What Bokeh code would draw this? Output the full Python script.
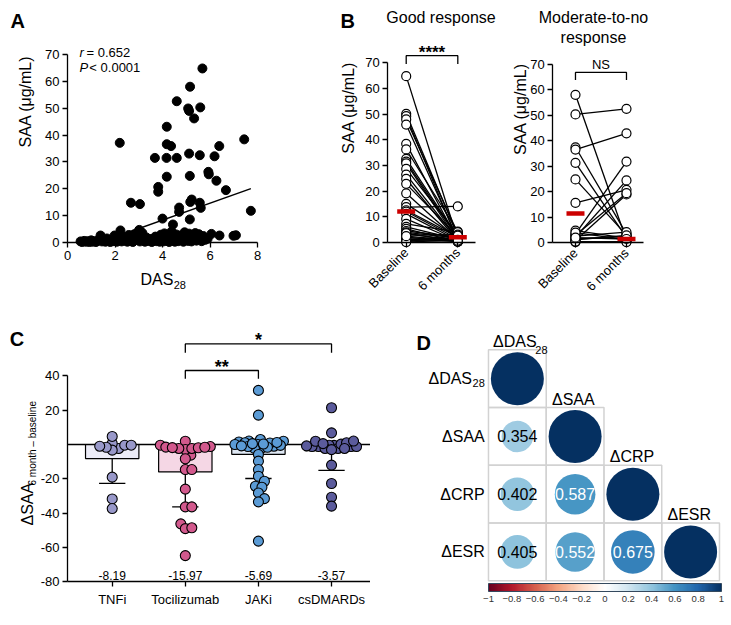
import math
import numpy as np
from bokeh.plotting import figure
from bokeh.layouts import row, column
from bokeh.models import (Range1d, FixedTicker, Label, LinearAxis, LinearColorMapper,
                          ColorBar, CustomJSTickFormatter, ColumnDataSource, AllLabels)
from bokeh.core.properties import value
from bokeh.embed import file_html
from bokeh.resources import INLINE

FONT = "Liberation Sans"

# ---------------- DATA ----------------
# Panel A: DAS28 vs SAA
das28 = [5.68, 5.16, 4.60, 5.08, 5.12, 5.59, 5.33, 4.18, 4.18, 4.36, 2.20, 7.44, 6.39, 3.68,
         4.17, 4.60, 5.12, 5.57, 6.19, 4.18, 5.15, 5.93, 5.95, 6.27, 6.67, 3.82, 3.82, 2.67,
         3.05, 5.17, 5.23, 5.57, 5.61, 4.70, 4.70, 4.00, 5.15, 7.72, 4.44,
         0.55, 0.62, 0.70, 0.78, 0.85, 0.92, 1.00, 1.05, 1.12, 1.20, 1.28, 1.35, 1.39, 1.45,
         1.52, 1.60, 1.66, 1.72, 1.80, 1.86, 1.92, 1.98, 2.02, 2.08, 2.12, 2.18, 2.23, 2.28,
         2.33, 2.40, 2.46, 2.52, 2.58, 2.63, 2.70, 2.75, 2.82, 2.88, 2.93, 2.98, 3.02, 3.05,
         3.10, 3.15, 3.20, 3.26, 3.32, 3.40, 3.48, 3.55, 3.62, 3.70, 3.76, 3.82, 3.88, 3.93,
         3.98, 4.03, 4.08, 4.12, 4.18, 4.22, 4.28, 4.33, 4.38, 4.42, 4.47, 4.52, 4.57, 4.62,
         4.66, 4.72, 4.78, 4.83, 4.88, 4.93, 4.98, 5.03, 5.08, 5.12, 5.17, 5.22, 5.28, 5.33,
         5.38, 5.43, 5.48, 5.53, 5.58, 5.65, 5.72, 5.80, 5.90, 6.06, 6.40, 6.99, 7.09]
saa = [64.8, 58.0, 52.6, 49.9, 49.0, 50.3, 46.2, 43.1, 36.6, 35.9, 37.1, 38.4, 35.9, 31.5,
       31.5, 31.5, 33.1, 32.5, 32.1, 24.5, 24.8, 26.3, 25.4, 23.0, 19.5, 20.7, 18.9, 14.8,
       14.3, 15.1, 16.0, 14.8, 12.9, 13.0, 11.4, 8.9, 8.6, 11.8, 6.7,
       0.4, 0.2, 0.6, 0.3, 0.5, 0.2, 0.8, 0.3, 0.5, 0.2, 0.7, 1.2, 2.6, 0.4,
       0.9, 0.3, 1.5, 0.6, 0.2, 1.1, 0.5, 2.6, 1.8, 0.3, 0.9, 1.4, 4.5, 0.4,
       2.1, 0.7, 1.2, 0.3, 2.8, 0.6, 1.6, 0.2, 3.1, 0.9, 1.5, 4.0, 4.7, 0.4,
       2.4, 3.6, 1.0, 0.3, 1.9, 0.6, 1.3, 0.2, 0.8, 2.2, 0.5, 1.6, 0.3, 2.9,
       1.1, 0.4, 3.4, 1.8, 0.6, 2.5, 0.2, 1.4, 4.1, 0.8, 2.0, 0.3, 3.0, 1.2,
       0.5, 2.6, 0.9, 1.7, 0.3, 3.8, 1.0, 2.3, 0.6, 3.3, 1.5, 0.4, 2.8, 1.1,
       3.5, 0.7, 2.0, 3.1, 1.3, 0.5, 2.4, 1.0, 1.4, 3.2, 2.6, 2.5, 2.7]
fit_slope = 3.15
fit_intercept = -4.27
fit_r = "0.652"
fit_p = "0.0001"

# Panel B: paired SAA, baseline vs 6 months
b_categories = ["Baseline", "6 months"]
good_base = [64.8, 50.1, 49.2, 47.9, 45.9, 38.4, 36.2, 32.5, 31.5, 30.8, 28.6, 26.4, 24.7,
             22.8, 19.1, 15.0, 13.7, 12.5, 12.0, 11.1, 9.1, 7.2, 6.0, 5.2, 4.4, 3.9, 3.3,
             2.8, 2.0, 1.6, 1.1, 0.65, 0.3, 0.1, 3.6, 2.4]
good_six = [1.0, 2.5, 0.5, 3.5, 1.2, 0.8, 4.2, 2.0, 1.5, 0.6, 3.0, 1.0, 0.4, 2.2, 0.9, 1.8,
            14.0, 2.0, 1.3, 0.7, 0.5, 4.0, 1.1, 0.3, 2.0, 1.6, 0.8, 3.0, 0.2, 1.4, 0.9, 0.5,
            2.6, 1.0, 0.3, 0.6]
good_median = [12.0, 2.0]
poor_base = [58.1, 50.4, 37.5, 36.6, 31.4, 24.9, 15.7, 4.8, 3.5, 2.2, 0.9, 0.3, 3.0, 1.5,
             2.6, 4.0, 1.2, 0.5, 2.0]
poor_six = [1.0, 52.6, 3.5, 43.0, 2.0, 3.0, 20.8, 1.8, 31.9, 24.5, 19.0, 0.5, 19.5, 2.5,
            4.2, 1.2, 2.9, 0.3, 1.5]
poor_median = [11.5, 1.5]

# Panel C: change in SAA by treatment
c_groups = ["TNFi", "Tocilizumab", "JAKi", "csDMARDs"]
c_mean = [-8.19, -15.97, -5.69, -3.57]
c_sd = [14.5, 20.3, 14.1, 11.5]
c_values = [
    [-2.3, 0.6, -0.4, -3.3, -1.6, 4.7, -1.0, -0.4, -19.0, -31.7, -37.3],
    [1.9, -6.2, -2.9, -2.3, -1.9, -2.3, -0.4, -1.5, -1.2, -1.8, -1.6, -8.3, -14.6, -14.6,
     -26.0, -36.3, -36.3, -46.2, -49.0, -48.5, -64.7],
    [31.5, 17.1, -1.0, 1.5, 2.0, 0.9, 2.9, 0.0, -2.3, 1.9, 0.0, 1.0, -2.3, -1.6, -1.2, 0.3,
     0.5, -0.8, -5.8, -9.7, -14.6, -18.5, -21.4, -24.3, -24.9, -28.2, -31.5, -33.4, -56.3,
     -0.5, 1.2],
    [21.4, 6.8, -0.5, -1.2, -1.2, -2.3, -0.4, 0.2, -2.3, -1.2, 1.0, -3.0, -1.2, 1.9, 2.0,
     -2.3, -0.8, -12.0, -22.7, -30.7, -35.9, 0.5],
]
c_dot_colors = ["#9898c9", "#d2598d", "#5b9bd5", "#5b5b9c"]
c_bar_colors = ["#ececf7", "#f5d7e5", "#dee7f3", "#e9e9f3"]

# Panel D: correlation matrix
d_vars = ["\u0394DAS", "\u0394SAA", "\u0394CRP", "\u0394ESR"]
d_corr = [[1.0],
          [0.354, 1.0],
          [0.402, 0.587, 1.0],
          [0.405, 0.552, 0.675, 1.0]]
cbar_ticks = [-1, -0.8, -0.6, -0.4, -0.2, 0, 0.2, 0.4, 0.6, 0.8, 1]
rdbu11 = ["#67001F", "#B2182B", "#D6604D", "#F4A582", "#FDDBC7", "#FFFFFF",
          "#D1E5F0", "#92C5DE", "#4393C3", "#2166AC", "#053061"]


# ---------------- helpers ----------------
def make_fig(w, h, xr, yr):
    p = figure(width=w, height=h, x_range=Range1d(*xr), y_range=Range1d(*yr),
               x_axis_type=None, y_axis_type=None,
               output_backend="svg", toolbar_location=None,
               min_border_left=0, min_border_right=0, min_border_top=0,
               min_border_bottom=0)
    p.outline_line_color = None
    p.background_fill_color = "white"
    p.border_fill_color = "white"
    p.grid.visible = False
    return p


def style_axis(ax):
    ax.axis_line_width = 1.3
    ax.axis_line_color = "black"
    ax.major_tick_line_width = 1.3
    ax.major_tick_line_color = "black"
    ax.major_tick_in = 0
    ax.major_tick_out = 5
    ax.minor_tick_line_color = None
    ax.major_label_text_font = FONT
    ax.major_label_text_font_size = "13px"
    ax.major_label_text_color = "black"
    ax.major_label_standoff = 3
    ax.axis_label_text_font = FONT
    ax.axis_label_text_font_size = "16px"
    ax.axis_label_text_font_style = "normal"
    ax.axis_label_text_color = "black"


def add_axes(p, xfix, xb, xticks, yfix, yb, yticks):
    xa = LinearAxis(fixed_location=xfix, bounds=xb, ticker=FixedTicker(ticks=xticks))
    ya = LinearAxis(fixed_location=yfix, bounds=yb, ticker=FixedTicker(ticks=yticks))
    style_axis(xa)
    style_axis(ya)
    p.add_layout(xa, "below")
    p.add_layout(ya, "left")
    return xa, ya


def lab(p, x, y, text, size="13px", style="normal", align="left", baseline="middle",
        color="black", angle=0.0):
    p.add_layout(Label(x=x, y=y, text=text, text_font=FONT, text_font_size=size,
                       text_font_style=style, text_align=align, text_baseline=baseline,
                       text_color=color, angle=angle))


def bracket(p, x0, x1, ytop, ybot):
    p.line([x0, x0, x1, x1], [ybot, ytop, ytop, ybot], line_color="black", line_width=1.3)


# ---------------- Panel A ----------------
pA = make_fig(290, 300, (-2.821, 9.389), (-21.59, 90.1))
xa, ya = add_axes(pA, 0, (0, 8), [0, 2, 4, 6, 8], 0, (0, 70), list(range(0, 71, 10)))
pA.scatter(das28, saa, size=9, color="black")
fx = np.array([-fit_intercept / fit_slope, max(das28)])
pA.line(fx, fit_slope * fx + fit_intercept, line_color="black", line_width=1.5)
lab(pA, -2.4, 86.4, "A", size="20px", style="bold", baseline="top")
lab(pA, -1.76, 52.5, "SAA (\u03bcg/mL)", size="16px", align="center", angle=math.pi / 2)
lab(pA, 0.5, 70.7, "r", style="italic")
lab(pA, 0.8, 70.7, "= " + fit_r)
lab(pA, 0.5, 65.0, "P", style="italic")
lab(pA, 0.92, 65.0, "< " + fit_p)
lab(pA, 3.07, -13.6, "DAS", size="16px")
lab(pA, 4.47, -15.8, "28", size="11px")


# ---------------- Panel B ----------------
def make_b(w, xr, yr, yfix, xend, base, six, med):
    p = make_fig(w, 300, xr, yr)
    xa, ya = add_axes(p, 0, (yfix, xend), [0, 1], yfix, (0, 70), list(range(0, 71, 10)))
    xa.major_label_overrides = {0: b_categories[0], 1: b_categories[1]}
    xa.major_label_orientation = math.pi / 4
    n = len(base)
    p.segment(x0=[0] * n, y0=base, x1=[1] * n, y1=six, line_color="black", line_width=1.3)
    p.scatter([0] * n, base, size=9, fill_color="white", line_color="black", line_width=1.2)
    p.scatter([1] * n, six, size=9, fill_color="white", line_color="black", line_width=1.2)
    p.rect([0, 1], med, width=18, height=4.5, width_units="screen", height_units="screen",
           fill_color="#cc0000", line_color=None)
    return p


pB1 = make_b(212, (-2.242, 1.866), (-22.7, 94.3), -0.357, 1.343,
             good_base, good_six, good_median)
lab(pB1, -1.273, 90.7, "B", size="20px", style="bold", baseline="top")
lab(pB1, -1.11, 52.5, "SAA (\u03bcg/mL)", size="16px", align="center", angle=math.pi / 2)
lab(pB1, 0.674, 87.6, "Good response", size="16px", align="center")
bracket(pB1, 0, 1, 72.8, 69.5)
lab(pB1, 0.5, 73.9, "****", size="17px", style="bold", align="center", baseline="alphabetic")

pB2 = make_b(158, (-1.431, 1.667), (-22.65, 95.13), -0.445, 1.333,
             poor_base, poor_six, poor_median)
lab(pB2, -1.08, 52.5, "SAA (\u03bcg/mL)", size="16px", align="center", angle=math.pi / 2)
lab(pB2, 0.353, 88.3, "Moderate-to-no", size="16px", align="center")
lab(pB2, 0.353, 80.6, "response", size="16px", align="center")
bracket(pB2, 0, 1, 66.9, 63.9)
lab(pB2, 0.5, 70.0, "NS", size="13px", align="center", baseline="alphabetic")

# ---------------- Panel C ----------------
C_XR = (-1.528, 3.533)
C_YR = (-102.5, 83.87)
pC = make_fig(370, 320, C_XR, C_YR)
cxa, cya = add_axes(pC, -80, (-0.611, C_XR[1]), [0, 1, 2, 3], -0.611, (-80, 40),
                    [-80, -60, -40, -20, 20, 40])
cxa.major_label_overrides = {i: g for i, g in enumerate(c_groups)}
cxa.major_label_standoff = 5
cya.formatter = CustomJSTickFormatter(code="return tick.toString();")
x_ppu = 370 / (C_XR[1] - C_XR[0])
y_ppu = 320 / (C_YR[1] - C_YR[0])


def swarm(vals, d=6.5, maxoff=25.0):
    cands = [0.0]
    k = 1
    while k * 0.5 <= maxoff:
        cands += [k * 0.5, -k * 0.5]
        k += 1
    placed = []
    offs = [0.0] * len(vals)
    for i in sorted(range(len(vals)), key=lambda k: vals[k]):
        yi = vals[i] * y_ppu
        chosen, bestd = 0.0, -1.0
        for c in cands:
            md = min((math.hypot(c - px, yi - py) for px, py in placed), default=1e9)
            if md >= d:
                chosen = c
                break
            if md > bestd:
                bestd, chosen = md, c
        placed.append((chosen, yi))
        offs[i] = chosen / x_ppu
    return offs


gx = list(range(len(c_groups)))
pC.vbar(x=gx, top=0, bottom=c_mean, width=0.73, fill_color=c_bar_colors,
        line_color="black", line_width=1.2)
pC.segment(x0=[-0.611], y0=[0], x1=[C_XR[1]], y1=[0], line_color="black", line_width=1.3)
lows = [m - s for m, s in zip(c_mean, c_sd)]
pC.segment(x0=gx, y0=c_mean, x1=gx, y1=lows, line_color="black", line_width=1.3)
pC.segment(x0=[g - 0.18 for g in gx], y0=lows, x1=[g + 0.18 for g in gx], y1=lows,
           line_color="black", line_width=1.3)
for g, vals in enumerate(c_values):
    offs = swarm(vals)
    pC.scatter([g + o for o in offs], vals, size=10, fill_color=c_dot_colors[g],
               line_color="black", line_width=1.1)
pC.text(x=gx, y=[-76.3] * 4, text=[f"{m:.2f}" for m in c_mean], text_font=value(FONT),
        text_font_size="12px", text_align="center", text_baseline="middle",
        text_color="black")
bracket(pC, 1, 2, 43.1, 38.3)
lab(pC, 1.5, 45.0, "**", size="18px", style="bold", align="center", baseline="alphabetic")
bracket(pC, 1, 3, 58.6, 53.4)
lab(pC, 2.0, 60.6, "*", size="18px", style="bold", align="center", baseline="alphabetic")
lab(pC, -1.40, 67.6, "C", size="20px", style="bold", baseline="top")
lab(pC, -1.159, -47.2, "\u0394SAA", size="16px", baseline="middle", angle=math.pi / 2)
lab(pC, -1.085, -23.9, "6 month \u2013 baseline", size="10px", baseline="middle",
    angle=math.pi / 2)

# ---------------- Panel D ----------------
pD = make_fig(358, 320, (-2.043, 4.156), (4.687, -0.854))

rgb = np.array([[int(c[i:i + 2], 16) for i in (1, 3, 5)] for c in rdbu11], dtype=float)
pos = np.linspace(0, 1, len(rdbu11))
tt = np.linspace(0, 1, 201)
palette = ["#%02x%02x%02x" % tuple(int(round(np.interp(t, pos, rgb[:, k]))) for k in range(3))
           for t in tt]
mapper = LinearColorMapper(palette=palette, low=-1, high=1)

cx, cy, cv, cr, ctext, ctcol = [], [], [], [], [], []
for i, rowv in enumerate(d_corr):
    for j, v in enumerate(rowv):
        cx.append(j + 0.5)
        cy.append(i + 0.5)
        cv.append(v)
        cr.append(0.459 * math.sqrt(abs(v)))
        ctext.append("" if i == j else f"{v:.3f}")
        ctcol.append("white" if abs(v) > 0.5 else "black")
src = ColumnDataSource(dict(x=cx, y=cy, v=cv, r=cr, t=ctext, tc=ctcol))
pD.rect(x="x", y="y", width=1, height=1, source=src, fill_color=None,
        line_color="#d2d2d2", line_width=1.5)
pD.circle(x="x", y="y", radius="r", source=src,
          fill_color={"field": "v", "transform": mapper}, line_color=None)
pD.text(x="x", y="y", text="t", source=src, text_color="tc", text_font=value(FONT),
        text_font_size="16px", text_align="center", text_baseline="middle")

for i, name in enumerate(d_vars):
    if i == 0:
        lab(pD, -0.285, 0.5, name, size="16px", align="right")
        lab(pD, -0.064, 0.58, "28", size="11px", align="right")
        lab(pD, 0.08, 0.0, name, size="16px", baseline="bottom")
        lab(pD, 0.81, 0.08, "28", size="11px", baseline="bottom")
    else:
        lab(pD, -0.064, i + 0.5, name, size="16px", align="right")
        lab(pD, i + 0.1, float(i), name, size="16px", baseline="bottom")
lab(pD, -1.247, -0.305, "D", size="20px", style="bold", baseline="top")

cb = ColorBar(color_mapper=mapper, orientation="horizontal",
              ticker=FixedTicker(ticks=cbar_ticks),
              formatter=CustomJSTickFormatter(
                  code="return tick < 0 ? '\\u2212' + Math.abs(tick) : '' + tick;"),
              major_label_policy=AllLabels(),
              location=(118, 16), width=233, height=8, padding=0, margin=0,
              label_standoff=4,
              major_label_text_font=FONT, major_label_text_font_size="9.5px",
              major_label_text_color="#333333", major_tick_line_color=None,
              bar_line_color="#34495e", bar_line_width=1, background_fill_color=None)
pD.add_layout(cb)

layout = column(row(pA, pB1, pB2), row(pC, pD))
with open("out.html", "w", encoding="utf-8") as f:
    f.write(file_html(layout, INLINE))
